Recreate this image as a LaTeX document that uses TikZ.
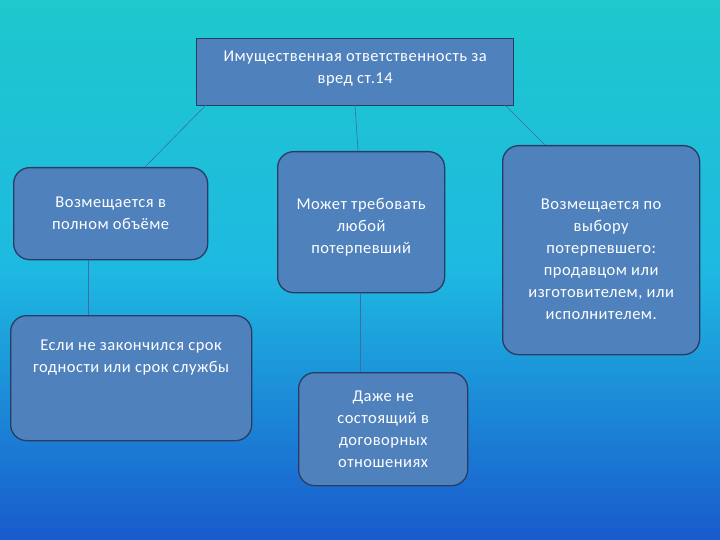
\documentclass[tikz,border=0pt]{standalone}
\usepackage{fontspec}
\setmainfont{Carlito}[LetterSpace=3]
\definecolor{bgtop}{RGB}{30,200,205}
\definecolor{bgmid}{RGB}{30,185,225}
\definecolor{bgbot}{RGB}{25,90,205}
\definecolor{boxfill}{RGB}{79,129,189}
\definecolor{boxline}{RGB}{40,60,100}
\definecolor{conn}{RGB}{60,110,170}
\begin{document}
\begin{tikzpicture}[x=1pt,y=-1pt,
  box/.style={draw=boxline,line width=1.3pt,fill=boxfill,text=white,align=center,font=\fontsize{16.5}{22}\selectfont,inner sep=3pt},
  rbox/.style={box,rounded corners=16pt},
  link/.style={draw=conn,line width=0.6pt}]
\shade[top color=bgtop,bottom color=bgbot,middle color=bgmid] (0,0) rectangle (720,540);
\useasboundingbox (0,0) rectangle (720,540);
\node[box,minimum width=317pt,minimum height=67pt,anchor=north west] (top) at (196,38) {\\[-18pt]Имущественная ответственность за\\вред ст.14};
\node[rbox,minimum width=194pt,minimum height=92pt,anchor=north west] (l1) at (13,167) {Возмещается в\\полном объёме};
\node[rbox,minimum width=241pt,minimum height=125pt,anchor=north west] (l2) at (10,315) {Если не закончился срок\\годности или срок службы\\[22pt]};
\node[rbox,minimum width=167pt,minimum height=141pt,anchor=north west] (m1) at (277,151) {\\Может требовать\\любой\\потерпевший};
\node[rbox,minimum width=169pt,minimum height=113pt,anchor=north west] (m2) at (298,372) {\\[-12pt]Даже не\\состоящий в\\договорных\\отношениях};
\node[rbox,minimum width=197pt,minimum height=209pt,anchor=north west] (r1) at (502,145) {\\[6pt]Возмещается по\\выбору\\потерпевшего:\\продавцом или\\изготовителем, или\\исполнителем.};
\coordinate (t1) at (206,105);
\coordinate (t2) at (355,105);
\coordinate (t3) at (505,105);
\draw[link] (t1) -- (l1.north west -| 145,0) ;
\draw[link] (t2) -- (m1.north west -| 358,0);
\draw[link] (t3) -- (r1.north west -| 545,0);
\draw[link] (l1.south west -| 88,0) -- (l2.north west -| 88,0);
\draw[link] (m1.south west -| 360,0) -- (m2.north west -| 360,0);
\end{tikzpicture}
\end{document}
